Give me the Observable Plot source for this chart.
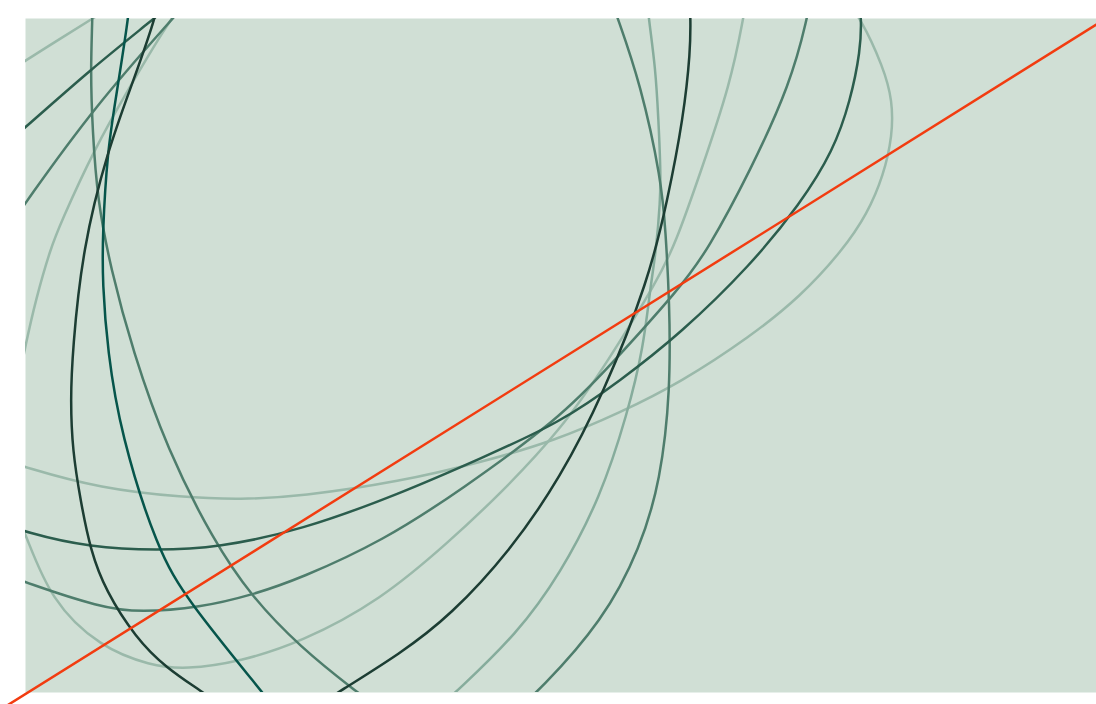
<!DOCTYPE html>
<html>
<head>
<meta charset="utf-8">
<script src="https://cdn.jsdelivr.net/npm/d3@7"></script>
<script src="https://cdn.jsdelivr.net/npm/@observablehq/plot@0.6"></script>
<style>
  body { margin: 0; background: #ffffff; }
  #chart svg { display: block; }
</style>
</head>
<body>
<div id="chart"></div>
<script>
// Points, in its pixel coordinates (x right, y down).
const ring1a = [[-5,80],[25,60],[60,38],[92,18],[115,4]];
const ring1b = [[-10,455],[25,467],[100,488],[183,497],[240,499],[300,496],[400,481],[480,462],[555,440],[620,412],[680,382],[750,336],[800,296],[842,250],[867,213],[883,175],[892,135],[892,100],[883,67],[860,17],[840,-8]];
const ring2a = [[185,-8],[172,18],[163,30],[130,85],[93,150],[60,223],[50,248],[35,300],[25,345],[18,380]];
const ring2b = [[10,500],[25,533],[50,600],[100,647],[150,665],[185,669],[240,661],[300,642],[380,600],[450,540],[500,493],[560,430],[608,360],[657,280],[675,243],[700,172],[730,83],[743,17],[747,-8]];
const ring3a = [[-5,152],[25,127],[90,69],[155,17],[175,0]];
const ring3b = [[-5,520],[25,532],[90,547],[157,550],[217,547],[300,530],[400,493],[480,458],[560,422],[620,380],[680,333],[750,265],[800,203],[833,150],[850,100],[860,50],[861,18],[858,-8]];
const ring4a = [[5,232],[25,202],[95,105],[173,17],[190,-2]];
const ring4b = [[0,572],[25,582],[100,607],[140,612],[200,607],[250,595],[300,578],[383,540],[460,490],[560,417],[607,368],[680,287],[707,250],[750,170],[790,83],[807,17],[811,-8]];
const ring5a = [[160,-8],[155,17],[133,80],[107,150],[82,248],[72,350],[70,400],[72,450],[80,500],[90,550],[105,590],[135,637],[165,667],[203,692],[220,705]];
const ring5b = [[318,705],[337,692],[400,653],[450,615],[510,550],[560,477],[603,393],[648,280],[667,200],[683,117],[690,50],[690,17],[689,-8]];
const ring6a = [[92,-8],[92,17],[90,70],[92,130],[97,200],[110,267],[132,350],[167,450],[213,540],[250,595],[300,647],[357,692],[375,705]];
const ring6b = [[520,705],[537,692],[603,620],[640,547],[660,480],[670,390],[669,300],[665,230],[661,180],[640,83],[617,17],[608,-8]];
const ring7 = [[130,-8],[128,17],[115,100],[107,150],[102,233],[102,283],[107,350],[120,433],[157,550],[187,600],[262,692],[272,705]];
const ring8 = [[646,-8],[648,17],[655,67],[658,120],[660,167],[660,200],[655,255],[650,285],[643,347],[627,413],[600,497],[560,573],[517,633],[455,692],[440,705]];
const trend = [[5,706],[1100,21.5]];

const curves = [
  {points: ring1a, tone: "light"},
  {points: ring1b, tone: "light"},
  {points: ring2a, tone: "light"},
  {points: ring2b, tone: "light"},
  {points: ring8,  tone: "midlight"},
  {points: ring4a, tone: "medium"},
  {points: ring4b, tone: "medium"},
  {points: ring6a, tone: "medium"},
  {points: ring6b, tone: "medium"},
  {points: ring3a, tone: "dark"},
  {points: ring3b, tone: "dark"},
  {points: ring7,  tone: "teal"},
  {points: ring5a, tone: "darkest"},
  {points: ring5b, tone: "darkest"}
];

const tones = {
  light: "#9ab9aa",
  midlight: "#86ac9c",
  medium: "#4e7d6c",
  dark: "#2b5d4d",
  teal: "#06554b",
  darkest: "#1c3d33"
};

const marks = [Plot.frame({fill: "#d0dfd5", stroke: null})];
for (const c of curves) {
  marks.push(Plot.line(c.points, {
    x: d => d[0], y: d => d[1],
    stroke: tones[c.tone], strokeWidth: 2.5,
    curve: "basis", clip: true
  }));
}
marks.push(Plot.line(trend, {x: d => d[0], y: d => d[1], stroke: "#f23c10", strokeWidth: 2.5}));

const chart = Plot.plot({
  width: 1096,
  height: 704,
  marginLeft: 25,
  marginRight: 0,
  marginTop: 18,
  marginBottom: 12,
  x: {domain: [25, 1096], axis: null},
  y: {domain: [692, 18], axis: null},
  marks
});
document.getElementById("chart").appendChild(chart);
</script>
</body>
</html>
